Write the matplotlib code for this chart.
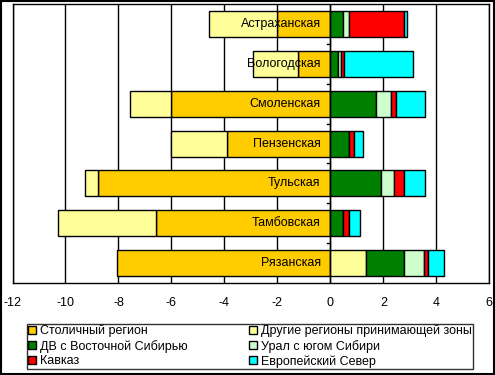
import matplotlib.pyplot as plt
import numpy as np
from matplotlib.patches import Rectangle

plt.rcParams['font.family'] = ['Liberation Sans', 'DejaVu Sans']

# ─────────────────────────────
# DATA
# ─────────────────────────────
regions = ["Астраханская", "Вологодская", "Смоленская", "Пензенская",
           "Тульская", "Тамбовская", "Рязанская"]

series_names = ["Столичный регион", "Другие регионы принимающей зоны",
                "ДВ с Восточной Сибирью", "Урал с югом Сибири",
                "Кавказ", "Европейский Север"]
series_colors = ["#FFCC00", "#FFFF99", "#008000", "#CCFFCC", "#FF0000", "#00FFFF"]

stolichny = [-2.0, -1.21, -6.0, -3.89, -8.79, -6.57, -8.06]
drugie    = [-2.6, -1.70, -1.58, -2.11, -0.48, -3.70, 1.36]
dv_sib    = [0.49, 0.30, 1.71, 0.71, 1.92, 0.49, 1.43]
ural      = [0.23, 0.09, 0.58, 0.0, 0.49, 0.0, 0.76]
kavkaz    = [2.07, 0.14, 0.20, 0.19, 0.38, 0.23, 0.15]
sever     = [0.12, 2.58, 1.09, 0.32, 0.79, 0.38, 0.60]

series = [stolichny, drugie, dv_sib, ural, kavkaz, sever]

# ─────────────────────────────
# CHART
# ─────────────────────────────
fig = plt.figure(figsize=(4.95, 3.75), dpi=100)
ax = fig.add_axes([0.0253, 0.2453, 0.9632, 0.7437])

y = np.arange(len(regions))
pos_base = np.zeros(len(regions))
neg_base = np.zeros(len(regions))

# Excel-style stacking: positives and negatives stack separately
for vals, name, col in zip(series, series_names, series_colors):
    vals = np.array(vals)
    left = np.where(vals >= 0, pos_base, neg_base)
    ax.barh(y, vals, left=left, height=0.65, color=col,
            edgecolor="black", linewidth=1, label=name, zorder=3)
    pos_base = pos_base + np.where(vals >= 0, vals, 0)
    neg_base = neg_base + np.where(vals < 0, vals, 0)

for yi, name in zip(y, regions):
    ax.annotate(name, (0, yi), xytext=(-7, 0), textcoords="offset points",
                ha="right", va="center", fontsize=9, zorder=5)

ax.set_xlim(-12, 6)
ax.set_ylim(len(regions) - 0.5, -0.5)
ax.set_xticks(np.arange(-12, 7, 2))
ax.set_xticklabels([str(v) for v in range(-12, 7, 2)], fontsize=9)
ax.set_yticks([])
ax.tick_params(axis="x", length=0, pad=10)
ax.grid(axis="x", color="black", linewidth=1, zorder=1)
ax.axvline(0, color="black", linewidth=1, zorder=4)
for yb in np.arange(0.5, len(regions) - 0.5, 1):
    ax.plot([-0.12, 0], [yb, yb], color="black", linewidth=1, zorder=4)
for sp in ax.spines.values():
    sp.set_linewidth(1)

handles, labels = ax.get_legend_handles_labels()
order = [0, 2, 4, 1, 3, 5]
leg = fig.legend([handles[i] for i in order], [labels[i] for i in order],
                 ncol=2, loc="lower left", bbox_to_anchor=(0.055, 0.016, 0.9, 0.13),
                 mode="expand", fontsize=9, frameon=True, fancybox=False,
                 handlelength=0.6, handleheight=0.6, handletextpad=0.3,
                 borderpad=0.1, labelspacing=0.2, columnspacing=2.4,
                 borderaxespad=0)
leg.get_frame().set_edgecolor("black")
leg.get_frame().set_linewidth(1)

fig.patches.append(Rectangle((0.002, 0.003), 0.995, 0.994, transform=fig.transFigure,
                             fill=False, edgecolor="black", linewidth=1.5))

plt.savefig("out.png", dpi=100)
plt.close()
